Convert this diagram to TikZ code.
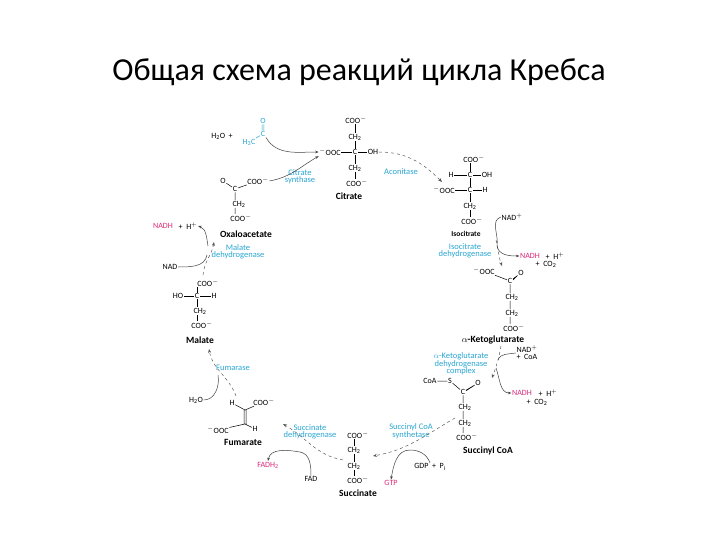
\documentclass[tikz,border=0pt]{standalone}
\usepackage{fontspec}
\setmainfont{Carlito}
\usetikzlibrary{arrows.meta}
\definecolor{enz}{RGB}{40,165,210}
\definecolor{mag}{RGB}{220,40,120}
\tikzset{
 t/.style={inner sep=0.6pt,font=\fontsize{8}{9}\selectfont},
 e/.style={t,text=enz,align=center,font=\fontsize{8.5}{9.5}\selectfont},
 m/.style={t,text=mag},
 nm/.style={inner sep=0.6pt,font=\fontsize{9.5}{10}\selectfont\bfseries},
 bd/.style={line width=0.5pt},
 cyc/.style={dashed,line width=0.5pt,gray!70!black,-{Stealth[length=4pt]}},
 side/.style={line width=0.5pt,gray!50!black,-{Stealth[length=3.5pt]}},
 sidein/.style={line width=0.5pt,gray!50!black},
}
\newcommand{\ch}{CH\textsubscript{2}}
\newcommand{\coo}{COO$^-$}
\begin{document}
\begin{tikzpicture}[x=1pt,y=-1pt]
\useasboundingbox (0,0) rectangle (720,540);
\node[font=\fontsize{32}{36}\selectfont] (title) at (359,72) {Общая схема реакций цикла Кребса};
% Citrate
\node[t] (ci1) at (356,120) {\coo};
\node[t] (ci2) at (355,137) {\ch};
\node[t] (ci3) at (355,152) {C};
\node[t] (ci3l) at (330,152) {$^-$OOC};
\node[t] (ci3r) at (373,152) {OH};
\node[t] (ci4) at (355,168) {\ch};
\node[t] (ci5) at (357,183) {\coo};
\node[nm] (citrate) at (349,196) {Citrate};
\draw[bd] (ci1.south -| ci3) -- (ci2.north -| ci3) (ci2.south -| ci3) -- (ci3) -- (ci4.north -| ci3) (ci4.south -| ci3)--(ci5.north -| ci3) (ci3l)--(ci3)--(ci3r);
% acetyl
\node[t] (h2o) at (222,136) {H\textsubscript{2}O \ +};
\node[t,text=enz] (aO) at (263,121) {O};
\node[t,text=enz] (aC) at (263,134) {C};
\node[t,text=enz] (aH) at (249,142) {H\textsubscript{3}C};
\draw[bd,enz] ([xshift=-0.8pt]aO.south)--([xshift=-0.8pt]aC.north) ([xshift=0.8pt]aO.south)--([xshift=0.8pt]aC.north) (aH)--(aC);
% oxaloacetate
\node[t] (oO) at (223,181) {O};
\node[t] (oC) at (235,189) {C};
\node[t] (oR) at (258,181) {\coo};
\node[t] (o2) at (239,204) {\ch};
\node[t] (o3) at (241,218) {\coo};
\node[nm] (oxalo) at (246,234) {Oxaloacetate};
\draw[bd] (oO)--(oC)--(oR) (oC)--(o2.north -| oC) (o2.south -| oC)--(o3.north -| oC);
\node[e] (cs) at (300,177) {Citrate\\[-2pt]synthase};
\draw[side] (aC.south east) to[out=-60,in=180] (ci3l.west);
\draw[side] (oR.east) to[out=10,in=-150] (ci3l.south west);
% Aconitase
\node[e] (aco) at (401,172) {Aconitase};
\draw[cyc] (ci3r.east) to[out=0,in=135] (442,182);
% isocitrate
\node[t] (i1) at (474,159) {\coo};
\node[t] (i2) at (470,175) {C};
\node[t] (i2l) at (451,175) {H};
\node[t] (i2r) at (487,175) {OH};
\node[t] (i3) at (470,190) {C};
\node[t] (i3l) at (444,190) {$^-$OOC};
\node[t] (i3r) at (485,190) {H};
\node[t] (i4) at (470,206) {\ch};
\node[t] (i5) at (472,221) {\coo};
\node[nm,font=\fontsize{7.5}{8}\selectfont\bfseries] (iso) at (466,234) {Isocitrate};
\draw[bd] (i1.south -| i2)--(i2)--(i3)--(i4.north -| i3) (i4.south -| i3)--(i5.north -| i3) (i2l)--(i2)--(i2r) (i3l)--(i3)--(i3r);
\node[e] (idh) at (465,251) {Isocitrate\\[-2pt]dehydrogenase};
\node[t] (nad1) at (512,217) {NAD$^+$};
\node[m] (nadh1) at (530,256) {NADH};
\node[t] (nadh1b) at (555,256) {+ \ H$^+$};
\node[t] (co21) at (546,264) {+ \ CO\textsubscript{2}};
\draw[cyc] (496,240) to[out=-75,in=110] (502,266);
\draw[sidein] (nad1.west) to[out=200,in=80] (497,246);
\draw[side] (497,246) to[out=-80,in=180] (nadh1.west);
% alpha-KG
\node[t] (k0) at (484,271) {$^-$OOC};
\node[t] (k1) at (510,281) {C};
\node[t] (kO) at (521,273) {O};
\node[t] (k2) at (512,297) {\ch};
\node[t] (k3) at (512,313) {\ch};
\node[t] (k4) at (514,328) {\coo};
\node[nm] (akg) at (493,340) {$\alpha$-Ketoglutarate};
\draw[bd] (k0)--(k1) (k1)--(kO) ([yshift=1pt]k1.east)--([yshift=1pt]kO.south west) (k1)--(k2.north -| k1) (k2.south -| k1)--(k3.north -| k1) (k3.south -| k1)--(k4.north -| k1);
\node[e] (akd) at (461,364) {$\alpha$-Ketoglutarate\\[-2pt]dehydrogenase\\[-2pt]complex};
\node[t,align=left] (nad2) at (527,353) {NAD$^+$\\[-2pt]+ \ CoA};
\node[m] (nadh2) at (522,393) {NADH};
\node[t] (nadh2b) at (548,393) {+ \ H$^+$};
\node[t] (co22) at (537,402) {+ \ CO\textsubscript{2}};
\draw[cyc] (501,346) to[out=-100,in=70] (492,378);
\draw[sidein] (nad2.west) to[out=190,in=70] (498,360);
\draw[side] (496,368) to[out=-70,in=180] (nadh2.west);
% succinyl CoA
\node[t] (s0) at (430,381) {CoA};
\node[t] (sS) at (450,381) {S};
\node[t] (s1) at (463,392) {C};
\node[t] (sO) at (478,383) {O};
\node[t] (s2) at (465,407) {\ch};
\node[t] (s3) at (465,423) {\ch};
\node[t] (s4) at (467,437) {\coo};
\node[nm] (succoa) at (488,451) {Succinyl CoA};
\draw[bd] (s0)--(sS)--(s1)--(sO) ([yshift=1.2pt]s1.east)--([yshift=1.2pt]sO.south west) (s1)--(s2.north -| s1) (s2.south -| s1)--(s3.north -| s1) (s3.south -| s1)--(s4.north -| s1);
\node[e] (scs) at (411,431) {Succinyl CoA\\[-2pt]synthetase};
\node[t] (gdp) at (430,467) {GDP \ + \ P\textsubscript{i}};
\node[m] (gtp) at (391,483) {GTP};
\draw[cyc] (455,418) to[out=-150,in=10] (373,456);
\draw[sidein] (gdp.north) to[out=110,in=0] (410,450);
\draw[side] (410,450) to[out=180,in=80] (gtp.north);
% succinate
\node[t] (u1) at (358,435) {\coo};
\node[t] (u2) at (354,450) {\ch};
\node[t] (u3) at (354,466) {\ch};
\node[t] (u4) at (358,480) {\coo};
\node[nm] (succ) at (358,493) {Succinate};
\draw[bd] (u1.south -| u2)--(u2.north) (u2.south)--(u3.north) (u3.south)--(u4.north -| u3);
\node[e] (sdh) at (310,432) {Succinate\\[-2pt]dehydrogenase};
\node[m] (fadh) at (268,465) {FADH\textsubscript{2}};
\node[t] (fad) at (311,479) {FAD};
\draw[cyc] (343,460) to[out=170,in=-30] (283,424);
\draw[sidein] (fad.north) to[out=90,in=-10] (300,452);
\draw[side] (300,452) to[out=170,in=80] (fadh.north);
% fumarate
\node[t] (f1) at (232,403) {H};
\node[t] (f2) at (264,402) {\coo};
\node[t] (f0) at (245,410) {};
\node[t] (f3) at (245,424) {};
\node[t] (f4) at (218,430) {$^-$OOC};
\node[t] (f5) at (255,429) {H};
\node[nm] (fum) at (243,442) {Fumarate};
\draw[bd] (f1)--(f0.center)--(f2) ([xshift=-1pt]f0.center)--([xshift=-1pt]f3.center) ([xshift=1pt]f0.center)--([xshift=1pt]f3.center) (f4)--(f3.center)--(f5);
\node[t] (h2o2) at (196,400) {H\textsubscript{2}O};
\node[e] (fumase) at (233,368) {Fumarase};
\draw[cyc] (236,396) to[out=110,in=-80] (209,349);
\draw[sidein] (h2o2.east) to[out=0,in=-80] (218,375);
% malate
\node[t] (l1) at (208,283) {\coo};
\node[t] (l2) at (197,296) {C};
\node[t] (l2l) at (178,296) {HO};
\node[t] (l2r) at (214,296) {H};
\node[t] (l3) at (200,311) {\ch};
\node[t] (l4) at (202,325) {\coo};
\node[nm] (mal) at (200,340) {Malate};
\draw[bd] (l1.south -| l2)--(l2)--(l3.north -| l2) (l3.south -| l2)--(l4.north -| l2) (l2l)--(l2)--(l2r);
\node[e] (mdh) at (238,252) {Malate\\[-2pt]dehydrogenase};
\node[t] (nad3) at (170,267) {NAD};
\node[m] (nadh3) at (163,226) {NADH};
\node[t] (nadh3b) at (188,226) {+ \ H$^+$};
\draw[cyc] (203,275) to[out=85,in=-100] (214,242);
\draw[sidein] (nad3.east) to[out=0,in=-100] (207,255);
\draw[side] (208,246) to[out=100,in=-20] (nadh3b.east);
\end{tikzpicture}
\end{document}
